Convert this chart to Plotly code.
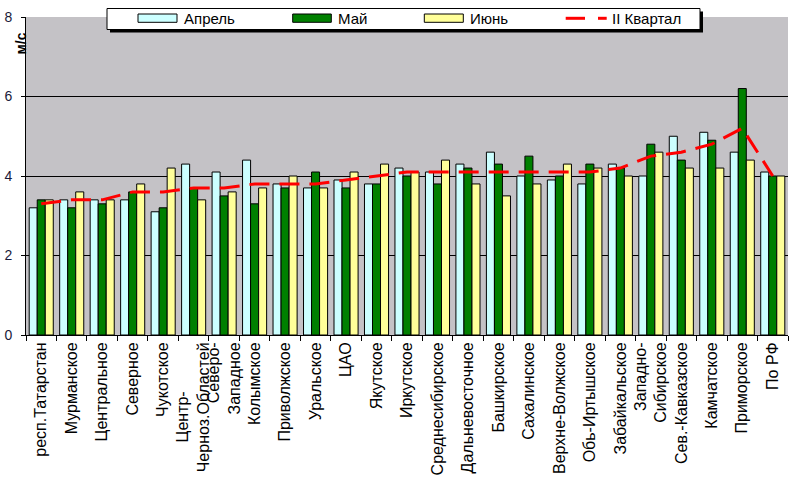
import plotly.graph_objects as go

categories = ["респ.Татарстан", "Мурманское", "Центральное", "Северное", "Чукотское",
              "Центр-" + "\u00a0" * 11 + "<br>Черноз.Областей", "Северо-<br>Западное", "Колымское", "Приволжское",
              "Уральское", "ЦАО", "Якутское", "Иркутское", "Среднесибирское", "Дальневосточное",
              "Башкирское", "Сахалинское", "Верхне-Волжское", "Обь-Иртышское", "Забайкальское",
              "Западно-<br>Сибирское", "Сев.-Кавказское", "Камчатское", "Приморское", "По РФ"]
april = [3.2, 3.4, 3.4, 3.4, 3.1, 4.3, 4.1, 4.4, 3.8, 3.7, 3.9, 3.8, 4.2, 4.1, 4.3, 4.6, 4.0, 3.9, 3.8, 4.3, 4.0, 5.0, 5.1, 4.6, 4.1]
may = [3.4, 3.2, 3.3, 3.6, 3.2, 3.7, 3.5, 3.3, 3.7, 4.1, 3.7, 3.8, 4.0, 3.8, 4.2, 4.3, 4.5, 4.0, 4.3, 4.2, 4.8, 4.4, 4.9, 6.2, 4.0]
june = [3.4, 3.6, 3.4, 3.8, 4.2, 3.4, 3.6, 3.7, 4.0, 3.7, 4.1, 4.3, 4.1, 4.4, 3.8, 3.5, 3.8, 4.3, 4.2, 4.0, 4.6, 4.2, 4.2, 4.4, 4.0]
quarter = [3.3, 3.4, 3.4, 3.6, 3.6, 3.7, 3.7, 3.8, 3.8, 3.8, 3.9, 4.0, 4.1, 4.1, 4.1, 4.1, 4.1, 4.1, 4.1, 4.2, 4.5, 4.6, 4.8, 5.2, 4.0]
series_names = ["Апрель", "Май", "Июнь", "II Квартал"]
y_ticks = [0, 2, 4, 6, 8]

FONT = "Liberation Sans, Arial, sans-serif"
W, H = 790, 479
L, R, T, B = 26, 2, 17, 144
colors = ["#CCFFFF", "#008000", "#FFFF99"]

fig = go.Figure()
for name, vals, c in zip(series_names[:3], [april, may, june], colors):
    fig.add_trace(go.Bar(x=categories, y=vals, name=name, marker=dict(color=c, line=dict(color="black", width=1)),
                         showlegend=False))
fig.add_trace(go.Scatter(x=categories, y=quarter, name=series_names[3], mode="lines",
                         line=dict(color="#FF0000", width=3, dash="20px,10px"), showlegend=False))

pw = W - L - R
ph = H - T - B
def px(x):
    return (x - L) / pw
def py(y):
    return (H - B - y) / ph

shapes = []
annotations = []
shapes.append(dict(type="rect", xref="paper", yref="paper", x0=px(110), x1=px(703), y0=py(32.5), y1=py(11.5),
                   fillcolor="black", line=dict(width=0), layer="above"))
shapes.append(dict(type="rect", xref="paper", yref="paper", x0=px(107), x1=px(700), y0=py(29.5), y1=py(8.5),
                   fillcolor="white", line=dict(color="black", width=1), layer="above"))
sw = [(138, 177, 182), (292.7, 331.3, 336), (424.3, 463.3, 468)]
for (a, b, t), c, n in zip(sw, colors, series_names[:3]):
    shapes.append(dict(type="rect", xref="paper", yref="paper", x0=px(a), x1=px(b), y0=py(22.3), y1=py(14),
                       fillcolor=c, line=dict(color="black", width=1), layer="above"))
    annotations.append(dict(x=px(t), y=py(18.5), xref="paper", yref="paper", text=n, showarrow=False,
                            xanchor="left", yanchor="middle", font=dict(family=FONT, size=15, color="black")))
for a, b in [(565.7, 585), (598, 606.7)]:
    shapes.append(dict(type="line", xref="paper", yref="paper", x0=px(a), x1=px(b), y0=py(18.3), y1=py(18.3),
                       line=dict(color="#FF0000", width=3), layer="above"))
annotations.append(dict(x=px(610), y=py(18.5), xref="paper", yref="paper", text=series_names[3], showarrow=False,
                        xanchor="left", yanchor="middle", font=dict(family=FONT, size=15, color="black")))
annotations.append(dict(x=px(20), y=py(43.5), xref="paper", yref="paper", text="<b>м/с</b>", showarrow=False,
                        textangle=-90, xanchor="center", yanchor="middle",
                        font=dict(family=FONT, size=14, color="black")))

fig.update_layout(
    width=W, height=H,
    margin=dict(l=L, r=R, t=T, b=B, autoexpand=False),
    paper_bgcolor="white", plot_bgcolor="#c4c2c6",
    barmode="group", bargap=0.21, bargroupgap=0,
    font=dict(family=FONT, size=14, color="black"),
    shapes=shapes, annotations=annotations,
    showlegend=False,
)
fig.update_xaxes(type="category", tickangle=-90, tickfont=dict(family=FONT, size=16, color="black"),
                 showline=True, linecolor="black", linewidth=1, ticks="outside", tickson="boundaries",
                 ticklen=5, tickcolor="black", showgrid=False, automargin=False)
fig.update_yaxes(range=[0, 8], tickvals=y_ticks, tickfont=dict(family=FONT, size=14, color="#1a1a3a"),
                 showline=True, linecolor="black", linewidth=1, ticks="outside", ticklen=4, tickcolor="black",
                 showgrid=True, gridcolor="black", gridwidth=1, zeroline=False, ticklabelstandoff=6,
                 automargin=False)

fig.write_html("out.html", config={"displayModeBar": False},
               post_script="document.body.style.margin='0px';document.body.style.padding='0px';")
